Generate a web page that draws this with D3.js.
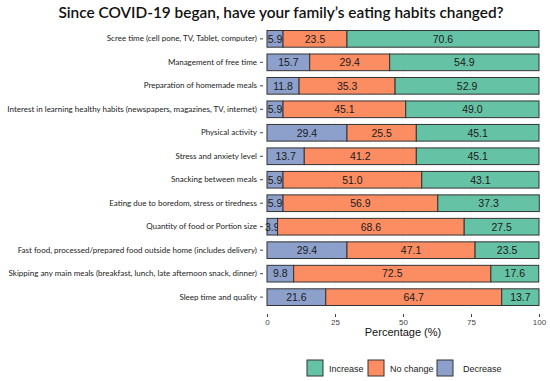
<!DOCTYPE html>
<html>
<head>
<meta charset="utf-8">
<script src="https://cdn.jsdelivr.net/npm/d3@7"></script>
<style>
  body { margin: 0; background: #fff; }
  svg { display: block; }
</style>
</head>
<body>
<div class="chart"></div>
<script>
var categories = [
  'Scree time (cell pone, TV, Tablet, computer)',
  'Management of free time',
  'Preparation of homemade meals',
  'Interest in learning healthy habits (newspapers, magazines, TV, internet)',
  'Physical activity',
  'Stress and anxiety level',
  'Snacking between meals',
  'Eating due to boredom, stress or tiredness',
  'Quantity of food or Portion size',
  'Fast food, processed/prepared food outside home (includes delivery)',
  'Skipping any main meals (breakfast, lunch, late afternoon snack, dinner)',
  'Sleep time and quality'
]
var decrease = [5.9, 15.7, 11.8, 5.9, 29.4, 13.7, 5.9, 5.9, 3.9, 29.4, 9.8, 21.6]
var noChange = [23.5, 29.4, 35.3, 45.1, 25.5, 41.2, 51.0, 56.9, 68.6, 47.1, 72.5, 64.7]
var increase = [70.6, 54.9, 52.9, 49.0, 45.1, 45.1, 43.1, 37.3, 27.5, 23.5, 17.6, 13.7]
var seriesNames = ['Decrease', 'No change', 'Increase']
var legendOrder = ['Increase', 'No change', 'Decrease']
var xTicks = [0, 25, 50, 75, 100]

var colors = {'Decrease': '#8da0cb', 'No change': '#fc8d62', 'Increase': '#66c2a5'}

var width = 550
var height = 381
var margin = {top: 27, left: 267, right: 11, bottom: 72}

var svg = d3.select('.chart').append('svg')
  .attr('width', width)
  .attr('height', height)

var rows = categories.map(function(c, i) {
  return {cat: c, 'Decrease': decrease[i], 'No change': noChange[i], 'Increase': increase[i]}
})

var stacked = d3.stack().keys(seriesNames)(rows)

var x = d3.scaleLinear().domain([0, 100]).range([margin.left, width - margin.right])
var y = d3.scaleBand().domain(categories)
  .range([margin.top, height - margin.bottom])
  .paddingInner(0.29).paddingOuter(0.15)

// title
svg.append('text')
  .attr('x', 281).attr('y', 18)
  .attr('text-anchor', 'middle')
  .style('font-family', 'Lato, sans-serif')
  .style('font-size', '15.4px')
  .style('font-weight', 600)
  .attr('fill', '#111')
  .text('Since COVID-19 began, have your family\u2019s eating habits changed?')

// grid
svg.append('g').selectAll('line')
  .data(xTicks)
  .enter().append('line')
  .attr('x1', function(d) { return x(d) }).attr('x2', function(d) { return x(d) })
  .attr('y1', margin.top).attr('y2', height - margin.bottom)
  .attr('stroke', '#ececec').attr('stroke-width', 0.6)

// bars
var layer = svg.append('g').selectAll('g')
  .data(stacked)
  .enter().append('g')
  .attr('fill', function(d) { return colors[d.key] })

layer.selectAll('rect')
  .data(function(d) { return d })
  .enter().append('rect')
  .attr('x', function(d) { return x(d[0]) })
  .attr('width', function(d) { return x(d[1]) - x(d[0]) })
  .attr('y', function(d) { return y(d.data.cat) })
  .attr('height', y.bandwidth())
  .attr('stroke', '#333')
  .attr('stroke-width', 1)

// value labels
layer.selectAll('text')
  .data(function(d) { return d })
  .enter().append('text')
  .attr('x', function(d) { return (x(d[0]) + x(d[1])) / 2 })
  .attr('y', function(d) { return y(d.data.cat) + y.bandwidth() / 2 + 3.8 })
  .attr('text-anchor', 'middle')
  .attr('fill', '#1a1a1a')
  .style('font-family', 'Arial, "Liberation Sans", sans-serif')
  .style('font-size', '10.5px')
  .text(function(d) { return (d[1] - d[0]).toFixed(1) })

// y axis
var yAxis = svg.append('g')
  .attr('transform', 'translate(' + (margin.left - 4) + ',0)')
  .call(d3.axisLeft(y).tickSize(3).tickPadding(3))
yAxis.select('.domain').remove()
yAxis.selectAll('line').attr('stroke', '#444')
yAxis.selectAll('text')
  .style('font-family', 'Lato, sans-serif')
  .style('font-size', '8px')
  .attr('fill', '#222')

// x axis
var xAxis = svg.append('g')
  .attr('transform', 'translate(0,' + (height - margin.bottom + 5) + ')')
  .call(d3.axisBottom(x).tickValues(xTicks).tickSize(3).tickPadding(2))
xAxis.select('.domain').remove()
xAxis.selectAll('line').attr('stroke', '#444')
xAxis.selectAll('text')
  .style('font-family', 'Arial, "Liberation Sans", sans-serif')
  .style('font-size', '8px')
  .attr('fill', '#444')

svg.append('text')
  .attr('x', x(50)).attr('y', 336)
  .attr('text-anchor', 'middle')
  .style('font-family', 'Arial, "Liberation Sans", sans-serif')
  .style('font-size', '11px')
  .attr('fill', '#111')
  .text('Percentage (%)')

// legend
var legendX = [307, 368, 437]
var legend = svg.append('g').selectAll('g')
  .data(legendOrder)
  .enter().append('g')
  .attr('transform', function(d, i) { return 'translate(' + legendX[i] + ',360)' })

legend.append('rect')
  .attr('width', 16).attr('height', 16)
  .attr('fill', function(d) { return colors[d] })
  .attr('stroke', '#333')

legend.append('text')
  .attr('x', function(d, i) { return i === 2 ? 26 : 22 })
  .attr('y', 11.5)
  .style('font-family', 'Arial, "Liberation Sans", sans-serif')
  .style('font-size', '9px')
  .attr('fill', '#222')
  .text(function(d) { return d })
</script>
</body>
</html>
